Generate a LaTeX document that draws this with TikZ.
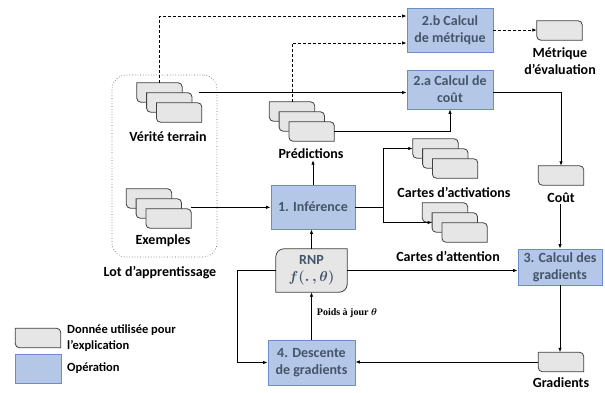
\documentclass[tikz,border=0pt]{standalone}
\usepackage{amsmath,bm}
\usepackage{fontspec}
\setmainfont{Carlito}
\newfontfamily\serifb{Liberation Serif}
\usetikzlibrary{positioning,arrows.meta,calc,backgrounds}
\definecolor{opfill}{HTML}{B4C7E7}
\definecolor{opline}{HTML}{6A8CCB}
\definecolor{optext}{HTML}{44546A}
\definecolor{datfill}{HTML}{E6E6E6}
\definecolor{datline}{HTML}{404040}
\newcommand{\rr}{4pt}
\newcommand{\datum}[2]{%
  \node[datum] (#1) at (#2) {};
  \draw[datfr] (#1.north west) -- ([xshift=-\rr]#1.north east)
    arc[start angle=90, end angle=0, radius=\rr] -- (#1.south east)
    -- ([xshift=\rr]#1.south west) arc[start angle=270, end angle=180, radius=\rr] -- cycle;
}
\newcommand{\datstack}[3]{%
  \foreach \i in {0,1,2} {
    \pgfmathtruncatemacro\k{\i+1}
    \datum{#1\k}{#2+\i*9.8,#3-\i*10}
  }}
\tikzset{
  op/.style    = {rectangle, draw=opline, fill=opfill, line width=0.8pt, inner sep=0pt,
                  align=center, text=optext, font=\bfseries\fontsize{14}{17}\selectfont},
  datum/.style = {rectangle, draw=none, minimum width=45pt, minimum height=19pt, inner sep=0pt},
  datfr/.style = {draw=datline, fill=datfill, line width=0.8pt},
  lbl/.style   = {font=\bfseries\fontsize{14}{17}\selectfont, align=center, inner sep=1pt},
  lgd/.style   = {font=\bfseries\fontsize{12.5}{16}\selectfont, align=left, anchor=west, inner sep=0pt},
  note/.style  = {font=\serifb\bfseries\boldmath\fontsize{10}{12}\selectfont, inner sep=0pt},
  lot/.style   = {rectangle, rounded corners=14pt, draw=datline!80, dotted, line width=0.7pt,
                  minimum width=105pt, minimum height=182pt},
  flow/.style  = {-{Latex[length=4.5pt,width=3.5pt]}, line width=0.8pt},
  dflow/.style = {flow, dash pattern=on 3pt off 2pt},
}
\begin{document}
\begin{tikzpicture}[x=1pt,y=1pt]
  \useasboundingbox (0,0) rectangle (605,-392);
  % lot d'apprentissage
  \node[lot] (lot) at (164.5,-166) {};
  \node[lbl] (lotlbl) at (160,-273) {Lot d’apprentissage};
  % donnees
  \datstack{V}{159.5}{-92.5}
  \datstack{P}{292}{-111.5}
  \datstack{E}{149}{-198.5}
  \datstack{A}{435.5}{-148.5}
  \datstack{T}{445}{-212.5}
  \datum{M}{559.5,-30.5}
  \datum{C}{561,-175.5}
  \datum{G}{561,-362}
  \node[lbl] (Vlbl) at (168,-137) {Vérité terrain};
  \node[lbl] (Plbl) at (311,-154) {Prédictions};
  \node[lbl] (Elbl) at (163,-241) {Exemples};
  \node[lbl] (Albl) at (454,-192) {Cartes d’activations};
  \node[lbl] (Tlbl) at (448,-256) {Cartes d’attention};
  \node[lbl] (Mlbl) at (560,-61.5) {Métrique\\d’évaluation};
  \node[lbl] (Clbl) at (561,-198) {Coût};
  \node[lbl] (Glbl) at (561,-383) {Gradients};
  % operations
  \node[op, minimum width=86pt, minimum height=44pt] (calcm) at (450,-30) {2.b Calcul\\de métrique};
  \node[op, minimum width=86pt, minimum height=39pt] (calcc) at (450,-89.5) {2.a Calcul de\\coût};
  \node[op, minimum width=84pt, minimum height=44pt] (infer) at (313,-207) {1. Inférence};
  \node[op, minimum width=84pt, minimum height=36pt] (grad) at (560,-267) {3. Calcul des\\gradients};
  \node[op, minimum width=87pt, minimum height=45pt] (desc) at (311.5,-362.5) {4. Descente\\de gradients};
  % reseau
  \node[lbl, text=optext, minimum width=71pt, minimum height=43pt] (rnp) at (311.5,-270.5)
    {RNP\\{\boldmath\fontsize{15}{17}\selectfont$f(.\,,\theta)$}};
  \begin{scope}[on background layer]
    \draw[datfr] ([yshift=-8pt]rnp.north west) arc[start angle=180, end angle=90, radius=8pt]
      -- (rnp.north east) -- ([yshift=8pt]rnp.south east)
      arc[start angle=0, end angle=-90, radius=8pt] -- (rnp.south west) -- cycle;
  \end{scope}
  % connecteurs
  \draw[dflow] (V1.north) |- ([yshift=14pt]calcm.west);
  \draw[dflow] (P1.north) |- ([yshift=-13pt]calcm.west);
  \draw[dflow] (calcm.east) -- (calcm.east -| M.west);
  \coordinate (vt) at ([xshift=7pt]V2.east |- V1.center);
  \draw[flow] (vt) -- (vt -| calcc.west);
  \draw[flow] (P3.east) -| (calcc.south);
  \draw[flow] ([yshift=-3pt]calcc.east) -| (C.north);
  \draw[flow] (grad.north |- Clbl.south) -- (grad.north);
  \draw[flow] (grad.south) -- (grad.south |- G.north);
  \draw[flow] (G.west) -- (G.west -| desc.east);
  \draw[flow] (desc.north) -- (rnp.south)
    node[note, pos=0.55, anchor=west, xshift=5pt] (maj) {Poids à jour $\theta$};
  \draw[flow] (rnp.west) -- ++(-38pt,0) |- (desc.west);
  \draw[flow] (rnp.east) -- (rnp.east -| grad.west);
  \draw[flow] (rnp.north) -- (rnp.north |- infer.south);
  \draw[flow] (infer.north) -- (infer.north |- Plbl.south);
  \draw[flow] ([yshift=1.5pt]E3.north east) -- ([yshift=1.5pt]E3.north east -| infer.west);
  \coordinate (jn) at ([xshift=28pt]infer.east);
  \draw[line width=0.8pt] (infer.east) -- (jn);
  \draw[flow] (jn) |- (A1.west);
  \draw[flow] (jn) |- (T2.west);
  % legende
  \datum{legD}{38,-338}
  \node[op, minimum width=46pt, minimum height=29pt] (legO) at (38,-368.5) {};
  \node[lgd] (legDt) at (67,-338.5) {Donnée utilisée pour\\l’explication};
  \node[lgd] (legOt) at (67,-368) {Opération};
\end{tikzpicture}
\end{document}
